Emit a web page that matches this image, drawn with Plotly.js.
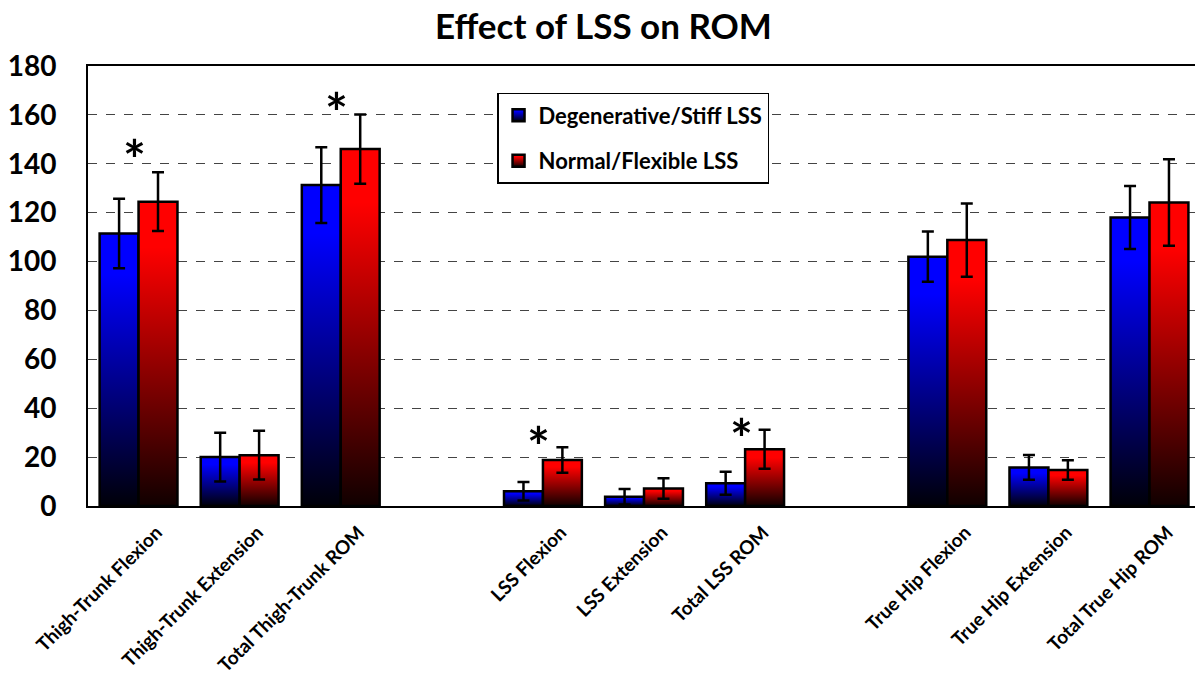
<!DOCTYPE html>
<html>
<head>
<meta charset="utf-8">
<script src="https://cdn.plot.ly/plotly-3.0.1.min.js"></script>
<style>html,body{margin:0;padding:0;background:#fff;}#chart{width:1195px;height:698px;}</style>
</head>
<body>
<div id="chart"></div>
<script>
// ---- data ----
const groupA = ['Thigh-Trunk Flexion', 'Thigh-Trunk Extension', 'Total Thigh-Trunk ROM'];
const groupB = ['LSS Flexion', 'LSS Extension', 'Total LSS ROM'];
const groupC = ['True Hip Flexion', 'True Hip Extension', 'Total True Hip ROM'];
const spacers = [' ', '  '];

const stiffMean = [111.5, 20, 131.3, 6, 3.8, 9.3, 102, 15.8, 118];
const stiffSD   = [14.2, 10, 15.5, 3.8, 3.2, 4.7, 10.3, 5.1, 12.9];
const flexMean  = [124.5, 20.8, 146, 18.8, 7.2, 23.2, 108.8, 14.7, 124.2];
const flexSD    = [12, 10, 14.2, 5.2, 4.2, 8, 15, 4, 17.7];

const starCats = ['Thigh-Trunk Flexion', 'Total Thigh-Trunk ROM', 'LSS Flexion', 'Total LSS ROM'];
const starY = [147, 166.5, 29.7, 33.1];

// ---- build category sequence with spacers between groups ----
const cats = [...groupA, spacers[0], ...groupB, spacers[1], ...groupC];
function expand(vals) {
  const out = []; let i = 0;
  cats.forEach(c => { if (spacers.includes(c)) out.push(null); else out.push(vals[i++]); });
  return out;
}

const font = 'Lato, "Open Sans", "Liberation Sans", sans-serif';

const traces = [
  {
    type: 'bar', name: 'Degenerative/Stiff LSS', legendgroup: 'a',
    x: cats, y: expand(stiffMean),
    marker: {color: '#0000FF', line: {color: '#000', width: 2.5}},
    error_y: {type: 'data', array: expand(stiffSD), visible: true, color: '#000', thickness: 2.5, width: 6},
    hoverinfo: 'x+y'
  },
  {
    type: 'bar', name: 'Normal/Flexible LSS', legendgroup: 'b',
    x: cats, y: expand(flexMean),
    marker: {color: '#FF0000', line: {color: '#000', width: 2.5}},
    error_y: {type: 'data', array: expand(flexSD), visible: true, color: '#000', thickness: 2.5, width: 6},
    hoverinfo: 'x+y'
  }
];

const annotations = starCats.map((c, i) => ({
  x: c, y: starY[i], xref: 'x', yref: 'y', text: '*', showarrow: false,
  xshift: -4, yanchor: 'middle', yshift: -12,
  font: {family: font, size: 54, color: '#000', weight: 'bold'}
}));

const layout = {
  width: 1195, height: 698,
  margin: {l: 88, r: 0, t: 66, b: 192},
  paper_bgcolor: '#fff', plot_bgcolor: '#fff',
  title: {text: '<b>Effect of LSS on ROM</b>', x: 0.505, xanchor: 'center', y: 0.962, yanchor: 'middle',
          font: {family: font, size: 35, color: '#000'}},
  barmode: 'group', bargap: 0.23, bargroupgap: 0,
  showlegend: true,
  legend: {x: 0.3695, y: 0.939, xanchor: 'left', yanchor: 'top',
           bordercolor: '#000', borderwidth: 1.5, bgcolor: '#fff',
           tracegroupgap: 14, itemwidth: 30,
           font: {family: font, size: 22, color: '#000', weight: 'bold'}},
  xaxis: {
    type: 'category', categoryorder: 'array', categoryarray: cats,
    range: [-0.5, 10.45], tickangle: -45,
    showline: true, linecolor: '#000', linewidth: 2, mirror: true,
    ticks: '', showgrid: false, zeroline: false,
    ticklabelshift: 18, ticklabelstandoff: 6,
    tickfont: {family: font, size: 19, color: '#000', weight: 'bold'}
  },
  yaxis: {
    range: [0, 180], dtick: 20, tick0: 0,
    showline: true, linecolor: '#000', linewidth: 2,
    showgrid: true, gridcolor: '#444', gridwidth: 1, griddash: 'dash',
    zeroline: false, ticks: '', ticklabelstandoff: 24,
    tickfont: {family: font, size: 28, color: '#000', weight: 'bold'}
  },
  annotations: annotations
};

function addGradients(gd) {
  const svg = gd.querySelector('.main-svg');
  let defs = svg.querySelector('defs');
  if (!defs) { defs = document.createElementNS('http://www.w3.org/2000/svg', 'defs'); svg.prepend(defs); }
  const mk = (id, col, endCol) => {
    if (defs.querySelector('#' + id)) return;
    const g = document.createElementNS('http://www.w3.org/2000/svg', 'linearGradient');
    g.setAttribute('id', id); g.setAttribute('x1', '0'); g.setAttribute('y1', '0');
    g.setAttribute('x2', '0'); g.setAttribute('y2', '1');
    [[0, col], [0.15, col], [1, endCol]].forEach(([o, c]) => {
      const s = document.createElementNS('http://www.w3.org/2000/svg', 'stop');
      s.setAttribute('offset', o); s.setAttribute('stop-color', c); g.appendChild(s);
    });
    defs.appendChild(g);
  };
  mk('gradBlue', '#0000FF', '#000008');
  mk('gradRed', '#FF0000', '#100000');
  const ids = ['gradBlue', 'gradRed'];
  gd.querySelectorAll('.barlayer .trace').forEach((t, i) => {
    t.querySelectorAll('.point path').forEach(p => { p.style.fill = 'url(#' + ids[i] + ')'; });
  });
  gd.querySelectorAll('.legend .traces').forEach((t, i) => {
    t.querySelectorAll('path').forEach(p => { p.style.fill = 'url(#' + ids[i] + ')'; });
  });
}

Plotly.newPlot('chart', traces, layout, {displayModeBar: false, responsive: false}).then(addGradients);
</script>
</body>
</html>
